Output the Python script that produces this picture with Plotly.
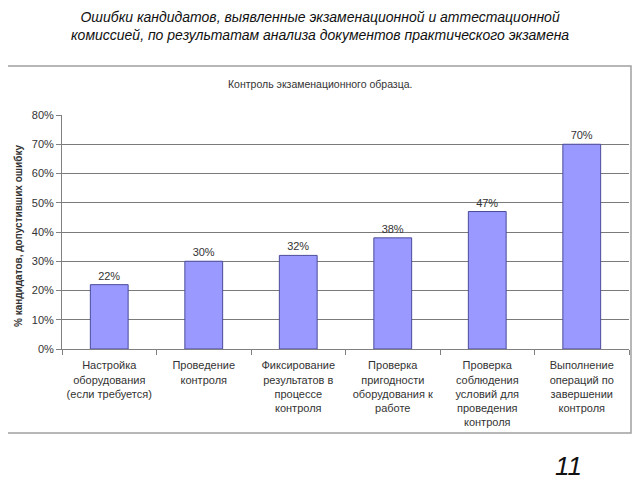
import plotly.graph_objects as go

categories = [
    "Настройка<br>оборудования<br>(если требуется)",
    "Проведение<br>контроля",
    "Фиксирование<br>результатов в<br>процессе<br>контроля",
    "Проверка<br>пригодности<br>оборудования к<br>работе",
    "Проверка<br>соблюдения<br>условий для<br>проведения<br>контроля",
    "Выполнение<br>операций по<br>завершении<br>контроля",
]
values = [0.22, 0.30, 0.32, 0.38, 0.47, 0.70]
labels = ["22%", "30%", "32%", "38%", "47%", "70%"]

# page body has an 8px margin, so the figure is drawn 8px in
OFF = 8
W, H = 640 - OFF, 480 - OFF
# plot area in screen pixels (as in the reference)
L, R, T, B = 62, 629, 115, 349


def px(x):
    return (x - L) / (R - L)


def py(y):
    return (B - y) / (B - T)


fig = go.Figure()
fig.add_trace(go.Bar(
    x=categories, y=values, width=0.4,
    marker=dict(color="#9999FF", line=dict(color="#4B4B9B", width=1)),
    text=labels, textposition="outside",
    textfont=dict(size=11, color="#333333", family="Liberation Sans"),
    cliponaxis=False,
))

# outer chart box
fig.add_shape(type="rect", xref="paper", yref="paper",
              x0=px(4), x1=px(631), y0=py(433), y1=py(66),
              line=dict(color="#A0A0A0", width=1.5), fillcolor="white", layer="below")

fig.add_annotation(xref="paper", yref="paper", x=px(320), y=py(26),
                   xanchor="center", yanchor="middle",
                   text="<i>Ошибки кандидатов, выявленные экзаменационной и аттестационной<br>комиссией, по результатам анализа документов практического экзамена</i>",
                   showarrow=False, font=dict(size=14, color="#111111", family="Liberation Sans"))
fig.add_annotation(xref="paper", yref="paper", x=px(320), y=py(84),
                   xanchor="center", yanchor="middle",
                   text="Контроль экзаменационного образца.",
                   showarrow=False, font=dict(size=10.5, color="#333333", family="Liberation Sans"))
fig.add_annotation(xref="paper", yref="paper", x=px(18), y=py(236),
                   xanchor="center", yanchor="middle",
                   text="<b>% кандидатов, допустивших ошибку</b>", textangle=-90,
                   showarrow=False, font=dict(size=10, color="#333333", family="Liberation Sans"))
fig.add_annotation(xref="paper", yref="paper", x=px(568), y=py(466),
                   xanchor="center", yanchor="middle",
                   text="<i>11</i>",
                   showarrow=False, font=dict(size=26, color="#111111", family="Liberation Sans"))

fig.update_layout(
    width=W, height=H,
    margin=dict(l=L - OFF, r=640 - R, t=T - OFF, b=480 - B),
    paper_bgcolor="white", plot_bgcolor="#C0C0C0",
    showlegend=False, bargap=0.6,
    font=dict(family="Liberation Sans", size=11, color="#333333"),
)
fig.update_yaxes(range=[0, 0.8], dtick=0.1, tickformat=".0%",
                 showgrid=True, gridcolor="#7A7A7A", gridwidth=1,
                 showline=True, linecolor="#808080", linewidth=1,
                 ticks="outside", ticklen=5, tickcolor="#808080",
                 tickfont=dict(size=11, color="#333333"), zeroline=False)
fig.update_xaxes(showline=True, linecolor="#808080", linewidth=1,
                 ticks="outside", ticklen=5, tickcolor="#808080",
                 tickson="boundaries", tickangle=0, ticklabelstandoff=6,
                 tickfont=dict(size=11, color="#333333"), showgrid=False)

fig.write_html("out.html")
